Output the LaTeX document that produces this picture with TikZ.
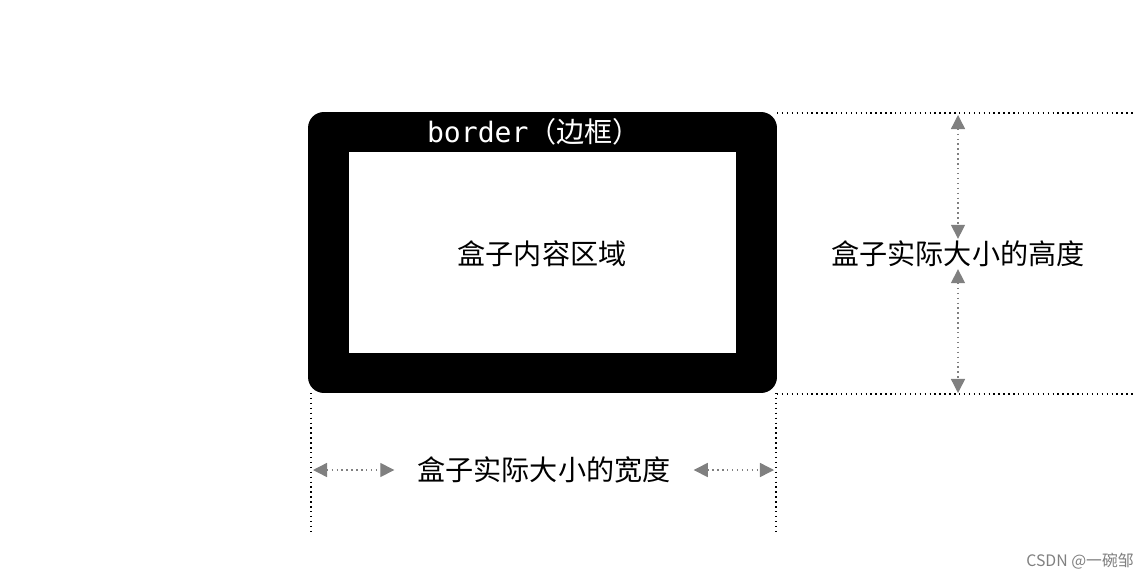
\documentclass[tikz,border=0pt]{standalone}
\usepackage{fontspec}
\setmonofont{DejaVu Sans Mono}
\newfontfamily\cjk{Noto Sans CJK SC}
\usetikzlibrary{arrows.meta}

\begin{document}
\begin{tikzpicture}[x=0.02cm,y=-0.02cm,
  guide/.style={dotted, line width=0.8pt},
  dimarrow/.style={gray, dotted, line width=0.8pt, {Triangle[length=8pt,width=8pt]}-{Triangle[length=8pt,width=8pt]}},
  label/.style={font=\cjk\fontsize{16}{18}\selectfont, inner sep=1pt}]
\useasboundingbox (0,0) rectangle (1145,578);

%box with border
\node at (542.5,252.5) [fill=black, rounded corners=9pt, minimum width=9.38cm, minimum height=5.62cm] (box) {};
\node at (542.5,252.5) [draw=white, double=black, double distance=1.2pt, fill=white, minimum width=7.8cm, minimum height=4.05cm] (inner) {};
\node at (534,132) [white, font=\ttfamily\fontsize{16}{18}\selectfont] (brd) {border\cjk（边框）};
\node at (542,254) [label] (content) {盒子内容区域};

%height marking
\coordinate (h1) at (777,113); \coordinate (h2) at (1135,113);
\coordinate (h3) at (777,394); \coordinate (h4) at (1135,394);
\draw [guide] (h1) -- (h2);
\draw [guide] (h3) -- (h4);
\node at (958,254) [label] (height) {盒子实际大小的高度};
\coordinate (ht) at (958,115); \coordinate (hb) at (958,393);
\draw [dimarrow] (ht) -- (height.north);
\draw [dimarrow] (height.south) -- (hb);

%width marking
\coordinate (w1) at (311,393); \coordinate (w2) at (311,533);
\coordinate (w3) at (776,393); \coordinate (w4) at (776,533);
\draw [guide] (w1) -- (w2);
\draw [guide] (w3) -- (w4);
\node at (544,470) [label] (width) {盒子实际大小的宽度};
\coordinate (wl) at (313,470); \coordinate (wr) at (774,470);
\draw [dimarrow] (wl) -- ([xshift=-12pt]width.west);
\draw [dimarrow] ([xshift=12pt]width.east) -- (wr);

\node at (1080,561) [gray, font=\cjk\fontsize{9}{10}\selectfont] (mark) {CSDN @一碗邹};
\end{tikzpicture}
\end{document}
